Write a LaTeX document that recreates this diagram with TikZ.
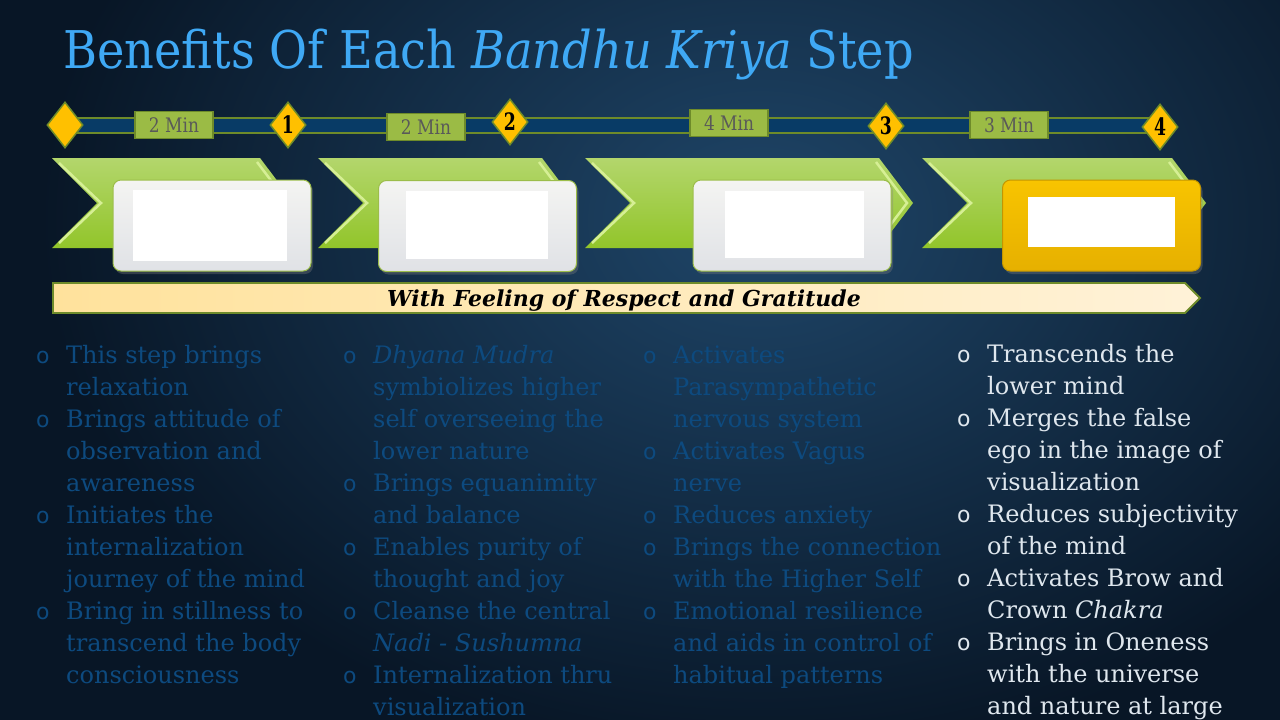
\documentclass[tikz,border=0pt]{standalone}
\usepackage{fontspec}
\setmainfont{DejaVu Serif}
\newfontfamily\titlefont[FakeStretch=0.89]{DejaVu Serif}
\newfontfamily\numfont[FakeStretch=0.72]{DejaVu Serif}
\newfontfamily\minfont[FakeStretch=0.85]{DejaVu Serif}
\newfontfamily\bulfont{DejaVu Sans}
\usetikzlibrary{shapes.geometric,shadows}
\definecolor{bgout}{HTML}{081626}
\definecolor{bgin}{HTML}{1F4669}
\definecolor{titleblue}{HTML}{3FA9F5}
\definecolor{gold}{HTML}{FFC000}
\definecolor{dgreen}{HTML}{6E8B2A}
\definecolor{lgreen}{HTML}{9BBB45}
\definecolor{bardark}{HTML}{083B66}
\definecolor{chevtop}{HTML}{B3D66C}
\definecolor{chevbot}{HTML}{92C52A}
\definecolor{chevhi}{HTML}{D6EF95}
\definecolor{boxtop}{HTML}{F4F4F2}
\definecolor{boxbot}{HTML}{E0E2E6}
\definecolor{boxedge}{HTML}{9CBD4A}
\definecolor{goldtop}{HTML}{F8C400}
\definecolor{goldbot}{HTML}{E6B000}
\definecolor{banleft}{HTML}{FFE29C}
\definecolor{banright}{HTML}{FFF2D8}
\definecolor{faint}{HTML}{0D4A7F}
\definecolor{bright}{HTML}{DFE7EE}
\definecolor{mintext}{HTML}{595959}
\tikzset{
  dia/.style={diamond, draw=dgreen, line width=1.5pt, fill=gold,
    minimum width=36pt, minimum height=46pt, inner sep=0pt,
    font=\numfont\bfseries\fontsize{24}{24}\selectfont},
  minbox/.style={rectangle, draw=dgreen, line width=1.5pt, fill=lgreen,
    minimum width=78pt, minimum height=27pt, inner sep=0pt, text=mintext,
    font=\minfont\fontsize{20}{20}\selectfont},
  stepbox/.style={rectangle, rounded corners=8pt, draw=boxedge, line width=1pt,
    top color=boxtop, bottom color=boxbot, minimum width=198pt, minimum height=91pt,
    inner sep=0pt, drop shadow={opacity=0.35, shadow xshift=2pt, shadow yshift=-3pt}},
  goldbox/.style={stepbox, top color=goldtop, bottom color=goldbot, draw=goldbot!85!black},
  whitebox/.style={rectangle, fill=white, draw=none, inner sep=0pt},
  chev/.style={top color=chevtop, bottom color=chevbot, draw=none},
  chevline/.style={draw=chevhi, line width=2.5pt, line join=miter},
  col/.style={anchor=base west, inner sep=0pt, align=left,
    font=\fontsize{24}{32}\selectfont},
}
\newcommand{\bl}{{\bulfont\fontsize{22}{22}\selectfont o}}
\newcommand{\chevshape}[3]{% left x, right x, point depth
  \path[chev] (#1,158) -- (#2,158) -- ({#2+#3},203) -- (#2,248) -- (#1,248) -- ({#1+45},203) -- cycle;
  \draw[chevline] ({#1+7},163) -- ({#1+49},203) -- ({#1+7},243);
  \draw[chevline] ({#2-3},162) -- ({#2+#3-6},203) -- ({#2-3},244);
}
\begin{document}
\begin{tikzpicture}[x=1pt,y=-1pt]
\useasboundingbox (0,0) rectangle (1280,720);
% background
\fill[bgout] (0,0) rectangle (1280,720);
\begin{scope}
\clip (0,0) rectangle (1280,720);
\shade[inner color=bgin, outer color=bgout] (760,220) ellipse (720 and 540);
\end{scope}
% title
\node[anchor=base west, inner sep=0pt, text=titleblue,
  font=\titlefont\fontsize{52}{54}\selectfont] (title) at (63,68)
  {Benefits Of Each \textit{Bandhu Kriya} Step};
% timeline bar
\coordinate (barTL) at (65,118);
\coordinate (barBR) at (1160,133);
\path[fill=bardark, draw=dgreen, line width=2pt] (barTL) rectangle (barBR);
% minute boxes
\node[minbox] (m1) at (174,125) {2 Min};
\node[minbox] (m2) at (426,127) {2 Min};
\node[minbox] (m3) at (729,123) {4 Min};
\node[minbox] (m4) at (1009,125) {3 Min};
% diamonds
\node[dia] (d0) at (65,125) {};
\node[dia] (d1) at (288,125) {1};
\node[dia] (d2) at (510,122) {2};
\node[dia] (d3) at (886,126) {3};
\node[dia] (d4) at (1160,127) {4};
% chevrons
\chevshape{52}{260}{34}
\chevshape{318}{542}{34}
\chevshape{585}{879}{34}
\chevshape{922}{1172}{34}
% step boxes
\node[stepbox] (b1) at (212,225.5) {};
\node[stepbox] (b2) at (477.5,226) {};
\node[stepbox] (b3) at (792,225.5) {};
\node[goldbox] (b4) at (1101.5,225.5) {};
\node[whitebox, minimum width=154pt, minimum height=71pt] (w1) at (210,225.5) {};
\node[whitebox, minimum width=142pt, minimum height=68pt] (w2) at (477,225) {};
\node[whitebox, minimum width=139pt, minimum height=67pt] (w3) at (794.5,224.5) {};
\node[whitebox, minimum width=147pt, minimum height=50pt] (w4) at (1101.5,222) {};
% banner
\path[left color=banleft, right color=banright, draw=dgreen, line width=1.8pt]
  (53,283) -- (1185,283) -- (1200,298) -- (1185,313) -- (53,313) -- cycle;
\node[anchor=base, inner sep=0pt, font=\bfseries\itshape\fontsize{22}{22}\selectfont] (ban) at (624,306)
  {With Feeling of Respect and Gratitude};
% columns
\node[col, text=faint] (c1) at (36,363) {\begin{tabular}[t]{@{}p{30pt}@{}l@{}}
\bl & This step brings\\
 & relaxation\\
\bl & Brings attitude of\\
 & observation and\\
 & awareness\\
\bl & Initiates the\\
 & internalization\\
 & journey of the mind\\
\bl & Bring in stillness to\\
 & transcend the body\\
 & consciousness
\end{tabular}};
\node[col, text=faint] (c2) at (343,363) {\begin{tabular}[t]{@{}p{30pt}@{}l@{}}
\bl & \textit{Dhyana Mudra}\\
 & symbiolizes higher\\
 & self overseeing the\\
 & lower nature\\
\bl & Brings equanimity\\
 & and balance\\
\bl & Enables purity of\\
 & thought and joy\\
\bl & Cleanse the central\\
 & \textit{Nadi - Sushumna}\\
\bl & Internalization thru\\
 & visualization
\end{tabular}};
\node[col, text=faint] (c3) at (643,363) {\begin{tabular}[t]{@{}p{30pt}@{}l@{}}
\bl & Activates\\
 & Parasympathetic\\
 & nervous system\\
\bl & Activates Vagus\\
 & nerve\\
\bl & Reduces anxiety\\
\bl & Brings the connection\\
 & with the Higher Self\\
\bl & Emotional resilience\\
 & and aids in control of\\
 & habitual patterns
\end{tabular}};
\node[col, text=bright] (c4) at (957,362) {\begin{tabular}[t]{@{}p{30pt}@{}l@{}}
\bl & Transcends the\\
 & lower mind\\
\bl & Merges the false\\
 & ego in the image of\\
 & visualization\\
\bl & Reduces subjectivity\\
 & of the mind\\
\bl & Activates Brow and\\
 & Crown \textit{Chakra}\\
\bl & Brings in Oneness\\
 & with the universe\\
 & and nature at large
\end{tabular}};
\end{tikzpicture}
\end{document}
